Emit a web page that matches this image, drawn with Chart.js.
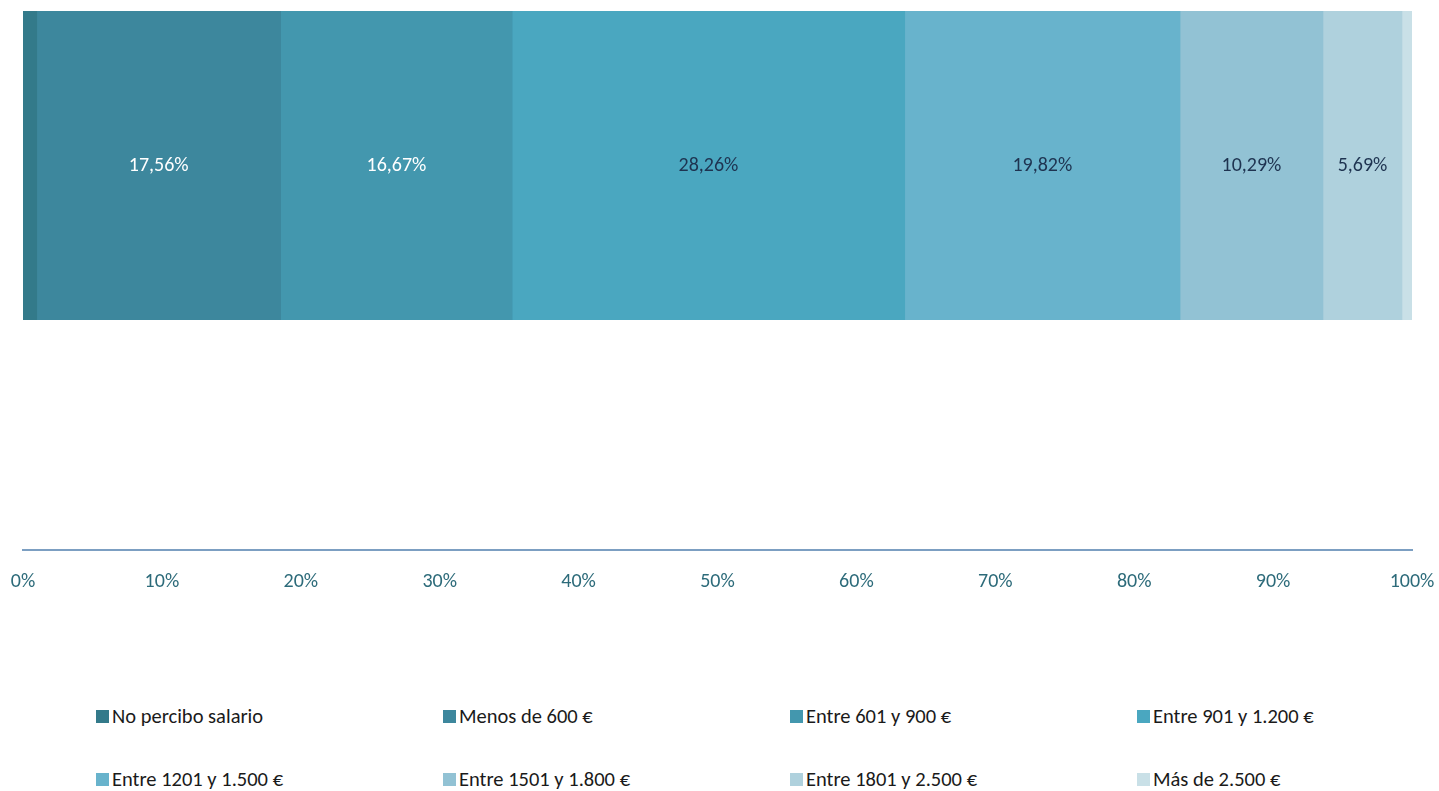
<!DOCTYPE html>
<html lang="es">
<head>
<meta charset="utf-8">
<title>Salario</title>
<script src="https://cdn.jsdelivr.net/npm/chart.js@4/dist/chart.umd.min.js"></script>
<style>
  html, body { margin: 0; padding: 0; background: #fff; }
  body { width: 1439px; height: 791px; position: relative; overflow: hidden; font-family: Carlito, Calibri, Lato, sans-serif; }
  #chart-wrap { position: absolute; left: 0; top: 0; width: 1439px; height: 622px; }
  #legend { position: absolute; left: 96px; top: 705px; display: grid; grid-template-columns: repeat(4, 347px); grid-auto-rows: 63px; }
  .legend-item { display: flex; align-items: center; height: 22px; font-size: 20.5px; color: #1a1a1a; white-space: nowrap; }
  .legend-box { width: 13px; height: 13px; margin-right: 3px; flex: none; }
</style>
</head>
<body>
<div id="chart-wrap"><canvas id="chart"></canvas></div>
<div id="legend"></div>
<script>
// Datos
const categories = ['Salario'];
const seriesNames = ['No percibo salario', 'Menos de 600 €', 'Entre 601 y 900 €', 'Entre 901 y 1.200 €',
    'Entre 1201 y 1.500 €', 'Entre 1501 y 1.800 €', 'Entre 1801 y 2.500 €', 'Más de 2.500 €'];
const seriesValues = [0.99, 17.56, 16.67, 28.26, 19.82, 10.29, 5.69, 0.72];
const tickValues = [0, 10, 20, 30, 40, 50, 60, 70, 80, 90, 100];

const colors = ['#337a8a', '#3d879d', '#4397ae', '#4aa7c0', '#68b3cc', '#92c2d4', '#afd1dd', '#c9e0e7'];
const labelColors = ['#ffffff', '#ffffff', '#ffffff', '#1e3350', '#1e3350', '#1e3350', '#1e3350', '#1e3350'];
const FONT = 'Carlito, Calibri, Lato, sans-serif';

const datasets = seriesNames.map((name, i) => ({
    label: name,
    data: [seriesValues[i]],
    backgroundColor: colors[i],
    borderWidth: 0,
    categoryPercentage: 1,
    barPercentage: 1
}));

// etiquetas de valor dentro de cada tramo
const valueLabels = {
    id: 'valueLabels',
    afterDatasetsDraw(chart) {
        const ctx = chart.ctx;
        ctx.save();
        ctx.font = '20px ' + FONT;
        ctx.textAlign = 'center';
        ctx.textBaseline = 'middle';
        chart.data.datasets.forEach((ds, i) => {
            const v = ds.data[0];
            if (v < 2) return;
            const el = chart.getDatasetMeta(i).data[0];
            const p = el.getCenterPoint();
            ctx.fillStyle = labelColors[i];
            ctx.fillText(v.toFixed(2).replace('.', ',') + '%', p.x, p.y);
        });
        ctx.restore();
    }
};

const chart = new Chart(document.getElementById('chart'), {
    type: 'bar',
    data: { labels: categories, datasets: datasets },
    options: {
        indexAxis: 'y',
        responsive: true,
        maintainAspectRatio: false,
        animation: false,
        layout: { padding: { top: 11, left: 23, right: 27, bottom: 8 } },
        scales: {
            y: { type: 'category', stacked: true, display: false, offset: true },
            x: {
                type: 'linear', stacked: true, min: 0, max: 100, weight: 0,
                ticks: { display: false },
                grid: { display: false, drawTicks: false },
                border: { display: false },
                afterFit: s => { s.height = 230; s.paddingLeft = 0; s.paddingRight = 0; }
            },
            x2: {
                type: 'linear', position: 'bottom', min: 0, max: 100, weight: 1,
                afterBuildTicks: s => { s.ticks = tickValues.map(v => ({ value: v })); },
                afterFit: s => { s.paddingLeft = 0; s.paddingRight = 0; },
                ticks: { color: '#2d6b7a', font: { family: FONT, size: 20 }, padding: 20, maxRotation: 0,
                    callback: v => v + '%' },
                grid: { display: false, drawTicks: false },
                border: { display: true, color: '#7c9fc2', width: 2 }
            }
        },
        plugins: {
            legend: { display: false },
            tooltip: { enabled: true }
        }
    },
    plugins: [valueLabels]
});

// leyenda en 4 columnas
const legendEl = document.getElementById('legend');
datasets.forEach(ds => {
    const item = document.createElement('div');
    item.className = 'legend-item';
    item.innerHTML = `<span class="legend-box" style="background:${ds.backgroundColor}"></span><span>${ds.label}</span>`;
    legendEl.appendChild(item);
});
</script>
</body>
</html>
